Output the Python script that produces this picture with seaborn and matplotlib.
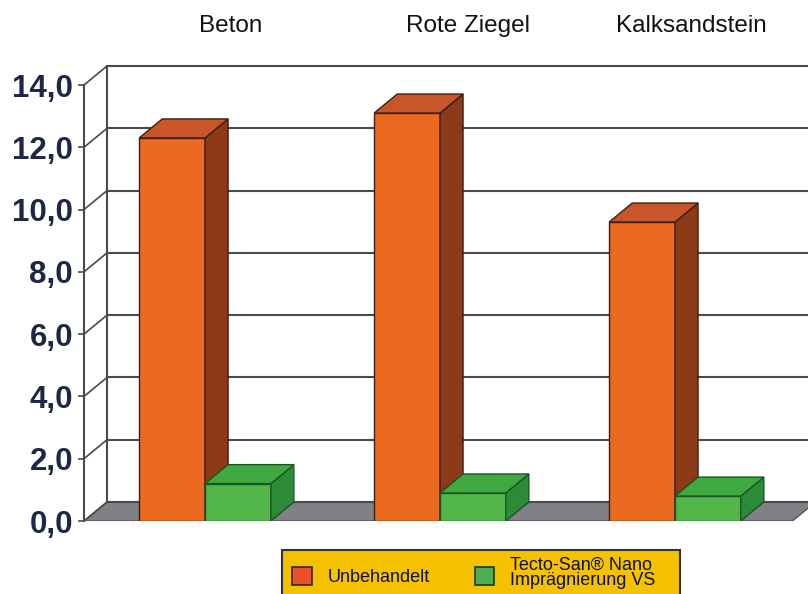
import pandas as pd
import matplotlib.pyplot as plt
import seaborn as sns
from matplotlib.patches import Polygon, Rectangle
from matplotlib.transforms import blended_transform_factory

# --- Data ---
materials = ["Beton", "Rote Ziegel", "Kalksandstein"]
series = ["Unbehandelt", "Tecto-San® Nano\nImprägnierung VS"]
untreated = [12.3, 13.1, 9.6]
treated = [1.2, 0.9, 0.8]
y_ticks = [0, 2, 4, 6, 8, 10, 12, 14]

df = pd.DataFrame({
    "Material": materials * 2,
    "Serie": [series[0]] * len(materials) + [series[1]] * len(materials),
    "Wert": untreated + treated,
})

# --- Style ---
orange = {"front": "#EC6A20", "top": "#C9562A", "side": "#8C3A18", "edge": "#3A2012"}
green = {"front": "#52B648", "top": "#3FA83E", "side": "#2C8B36", "edge": "#1B5426"}
grid_col = "#4A4A4A"
floor_col = "#7E8185"

# 3D depth (data units)
dx, dy = 0.098, 0.61
xmin, xmax = -0.515, 2.566
floor_right = 2.50

sns.set_theme(style="white")
plt.rcParams["font.family"] = ["Liberation Sans", "DejaVu Sans"]

fig = plt.figure(figsize=(8.08, 5.94), dpi=100)
ax = fig.add_axes([84 / 808, 73 / 594, 724 / 808, 436 / 594])

sns.barplot(data=df, x="Material", y="Wert", hue="Serie",
            palette=[orange["front"], green["front"]], width=0.56,
            saturation=1, linewidth=1, legend=False, ax=ax)

ax.set_xlim(xmin, xmax)
ax.set_ylim(0, 14)

# --- back wall, floor and diagonal grid ---
floor = Polygon([(xmin, 0), (floor_right, 0), (floor_right + dx, dy), (xmin + dx, dy)],
                closed=True, facecolor=floor_col, edgecolor="#555555", lw=1, zorder=1)
ax.add_patch(floor)
ax.plot([xmin + dx, xmin + dx], [dy, 14 + dy], color=grid_col, lw=1.5, clip_on=False, zorder=1.5)
for v in y_ticks:
    ax.plot([xmin + dx, xmax], [v + dy, v + dy], color=grid_col, lw=1.5, clip_on=False, zorder=1.5)
    ax.plot([xmin, xmin + dx], [v, v + dy], color=grid_col, lw=1.2, clip_on=False, zorder=1.5)

# --- 3D faces on bars ---
bars = []
for cont, sty in zip(ax.containers, [orange, green]):
    for rect in cont:
        bars.append((rect, sty))
bars.sort(key=lambda b: b[0].get_x())
for i, (rect, sty) in enumerate(bars):
    z = 3 + i
    x0, w, h = rect.get_x(), rect.get_width(), rect.get_height()
    rect.set_edgecolor(sty["edge"])
    rect.set_zorder(z)
    top = Polygon([(x0, h), (x0 + w, h), (x0 + w + dx, h + dy), (x0 + dx, h + dy)],
                  closed=True, facecolor=sty["top"], edgecolor=sty["edge"], lw=1, zorder=z)
    side = Polygon([(x0 + w, 0), (x0 + w + dx, dy), (x0 + w + dx, h + dy), (x0 + w, h)],
                   closed=True, facecolor=sty["side"], edgecolor=sty["edge"], lw=1, zorder=z)
    ax.add_patch(side)
    ax.add_patch(top)

# --- axes ---
for s in ["top", "right", "bottom"]:
    ax.spines[s].set_visible(False)
ax.spines["left"].set_color(grid_col)
ax.spines["left"].set_linewidth(1.5)
ax.set_xticks([])
ax.set_xlabel("")
ax.set_ylabel("")
ax.set_yticks(y_ticks)
ax.set_yticklabels([f"{v:.1f}".replace(".", ",") for v in y_ticks],
                   fontsize=22.5, fontweight="bold", color="#1C2844")
ax.tick_params(axis="y", length=4, width=1.2, color=grid_col, pad=4, left=True)

# category labels on top
trans = blended_transform_factory(ax.transData, ax.transAxes)
label_shift = [0.11, 0.12, 0.07]
for i, name in enumerate(materials):
    ax.text(i + label_shift[i], 1 + (85 - 32) / 436, name, transform=trans, ha="center",
            va="baseline", fontsize=17.5, color="#111111")

# --- legend box ---
fig.add_artist(Rectangle((282 / 808, -0.05), 398 / 808, (594 - 550) / 594 + 0.05,
                         transform=fig.transFigure, facecolor="#F6C200",
                         edgecolor="#333333", lw=1.5))
fig.add_artist(Rectangle((292 / 808, (594 - 585) / 594), 20 / 808, 18 / 594,
                         transform=fig.transFigure, facecolor="#E8522A",
                         edgecolor="#3A2012", lw=1.2))
fig.add_artist(Rectangle((475 / 808, (594 - 585) / 594), 19 / 808, 18 / 594,
                         transform=fig.transFigure, facecolor="#4DAF50",
                         edgecolor="#1B3A22", lw=1.2))
fig.text(328 / 808, (594 - 578) / 594, series[0], fontsize=13, va="center", ha="left", color="#111111")
fig.text(510 / 808, (594 - 573) / 594, series[1], fontsize=13, va="center", ha="left",
         color="#111111", linespacing=0.85)

fig.savefig("out.png", dpi=100)
